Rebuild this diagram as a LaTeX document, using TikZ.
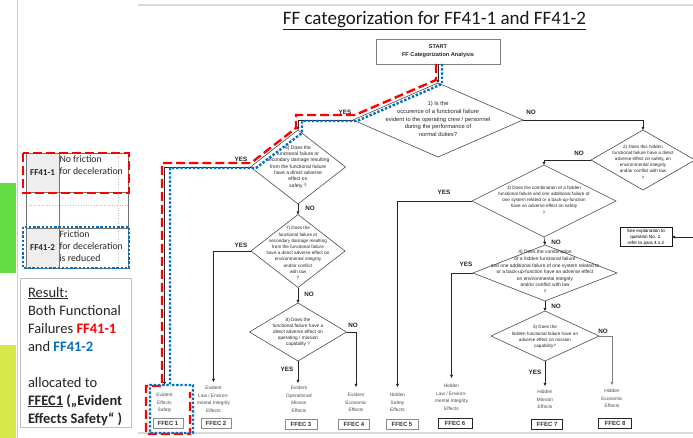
\documentclass[tikz,border=0pt]{standalone}
\usepackage{fontspec}
\setmainfont{Carlito}
\newfontfamily\arialf{Liberation Sans}
\usetikzlibrary{shapes.geometric,arrows.meta}
\definecolor{ffred}{HTML}{FF0000}
\definecolor{ffblue}{HTML}{0070C0}
\definecolor{barG}{HTML}{66DD44}
\definecolor{barY}{HTML}{D4E84A}
\definecolor{cellgray}{HTML}{EEEEEE}
\begin{document}
\begin{tikzpicture}[x=1pt,y=-1pt,
  every node/.style={inner sep=0pt,outer sep=0pt},
  qd/.style={diamond,draw=black!70,line width=0.6pt,inner sep=0pt},
  qt/.style={font=\arialf\fontsize{4.6pt}{6.2pt}\selectfont,align=center,text=black!85},
  lab/.style={font=\arialf\bfseries\fontsize{6.3pt}{7pt}\selectfont,text=black!85},
  outc/.style={font=\arialf\fontsize{4.8pt}{7.7pt}\selectfont,align=center,text=black!70,anchor=north,inner xsep=0pt},
  ffec/.style={draw=black!45,line width=0.7pt,font=\arialf\bfseries\fontsize{6pt}{7pt}\selectfont,
    minimum width=#1,minimum height=10pt,text=black!80},
  ffecd/.style={ffec=#1,draw=black!85,line width=0.9pt},
  conn/.style={draw=black!85,line width=0.6pt,-{Triangle[length=3.2pt,width=2.8pt]}},
  hlred/.style={draw=ffred,line width=2.4pt,dash pattern=on 9pt off 4pt},
  hlblue/.style={draw=ffblue,line width=2.4pt,dash pattern=on 2.4pt off 1.8pt},
  tbl/.style={font=\fontsize{9.8pt}{12pt}\selectfont,text=black!85}]
\clip (0,0) rectangle (693,438);
\fill[white] (0,0) rectangle (693,438);

% side panel
\fill[barG] (0,183) rectangle (16,273);
\fill[barY] (0,345) rectangle (16,438);
\draw[black!20,line width=0.6pt] (17,0) -- (17,438);
\draw[black!15,line width=1.5pt] (138,5) -- (693,5);
\draw[black!15,line width=1.5pt] (138,433) -- (693,433);

% failure table
\fill[cellgray] (26,153) rectangle (59,192);
\fill[cellgray] (26,228) rectangle (59,268);
\draw[black!25,dotted,line width=0.6pt] (26,205) -- (128,205);
\draw[black!25,dotted,line width=0.6pt] (118,153) -- (118,268);
\draw[black!55,line width=0.7pt] (26,153) rectangle (128,268);
\draw[black!55,line width=0.7pt] (59,153) -- (59,268);
\draw[black!55,line width=0.7pt] (26,192) -- (128,192);
\draw[black!55,line width=0.7pt] (26,228) -- (128,228);
\node[tbl,font=\bfseries\fontsize{9pt}{10pt}\selectfont] (ff1) at (42.5,173) {FF41-1};
\node[tbl,anchor=west,align=left] (ff1d) at (59.5,165.5) {No friction\\for deceleration};
\node[tbl,font=\bfseries\fontsize{9pt}{10pt}\selectfont] (ff2) at (42.5,248) {FF41-2};
\node[tbl,anchor=west,align=left] (ff2d) at (59.5,246) {Friction\\for deceleration\\is reduced};
\draw[hlred] (23,153) rectangle (129,193);
\draw[hlblue] (23,227) rectangle (129,268);

% result box
\draw[black!25,line width=0.6pt] (20,278) rectangle (131,427);
\node[anchor=north west,align=left,font=\fontsize{14.5pt}{18pt}\selectfont,text=black!85] (res) at (28,287)
  {\underline{Result:}\\Both Functional\\Failures \textcolor{ffred}{\textbf{FF41-1}}\\and \textcolor{ffblue}{\textbf{FF41-2}}\\[18pt]
   allocated to\\\textbf{\underline{FFEC1} („Evident}\\\textbf{Effects Safety“ )}};

% title
\node[anchor=base,font=\fontsize{19pt}{22pt}\selectfont,text=black!90] (title) at (434.5,25)
  {\underline{FF categorization for FF41-1 and FF41-2}};

% start
\node[draw=black!50,line width=0.6pt,fill=white,minimum width=124pt,minimum height=25pt,align=center,
  font=\arialf\bfseries\fontsize{5.6pt}{8pt}\selectfont,text=black!85] (start) at (438,51.5)
  {START\\FF Categorization Analysis};

% decision diamonds
\node[qd,minimum width=170pt,minimum height=74pt] (d1) at (438,120) {};
\node[qd,minimum width=104pt,minimum height=60pt] (d2) at (643,160) {};
\node[qd,minimum width=144pt,minimum height=72pt] (d3) at (544,201) {};
\node[qd,minimum width=144pt,minimum height=56pt] (d4) at (545,273) {};
\node[qd,minimum width=108pt,minimum height=50pt] (d5) at (545,336) {};
\node[qd,minimum width=95pt,minimum height=74pt] (d6) at (298,167) {};
\node[qd,minimum width=94pt,minimum height=73pt] (d7) at (298,251) {};
\node[qd,minimum width=97pt,minimum height=58pt] (d8) at (298,332) {};

\node[qt,font=\arialf\fontsize{5.8pt}{7.7pt}\selectfont] (d1t) at (438,119)
  {1) Is the\\occurence of a functional failure\\evident to the operating crew / personnel\\during the performance of\\normal duties?};
\node[qt] (d2t) at (643,162)
  {2) Does this hidden\\functional failure have  a direct\\adverse  effect on safety, on\\environmental integrity\\and/or conflict with law\\?};
\node[qt] (d3t) at (544,200)
  {3) Does the combination of a hidden\\functional failure and one additional failure of\\one system  related or a back-up-function\\have an adverse effect on safety\\?};
\node[qt,font=\arialf\fontsize{4.9pt}{6.6pt}\selectfont] (d4t) at (545,272)
  {4) Does the combination\\of a hidden  functional failure\\and one additional failure of one system related to\\or a back-up-function have an adverse effect\\on environmental integrity\\and/or conflict with law\\?};
\node[qt] (d5t) at (545,337)
  {5) Does the\\hidden functional failure have  an\\adverse effect on mission\\capability?};
\node[qt,font=\arialf\fontsize{5pt}{6.3pt}\selectfont] (d6t) at (298,167)
  {6) Does the\\functional failure or\\secondary damage resulting\\from the functional failure\\have  a direct adverse\\effect on\\safety ?};
\node[qt] (d7t) at (298,253)
  {7) Does the\\functional failure or\\secondary damage resulting\\from the functional failure\\have  a direct adverse effect on\\environmental integrity\\and/or conflict\\with law\\?};
\node[qt,font=\arialf\fontsize{4.8pt}{5.9pt}\selectfont] (d8t) at (298,332)
  {8) Does the\\functional failure have  a\\direct adverse effect  on\\operating / mission\\capability ?};

% outcomes
\node[outc,inner ysep=8pt] (ees) at (164.5,385) {Evident\\Effects\\Safety};
\node[outc,inner ysep=4pt] (el) at (213.5,382) {Evident\\Law / Environ-\\mental Integrity\\Effects};
\node[outc,inner ysep=3pt] (eo) at (299,383) {Evident\\Operational/\\Misson\\Effects};
\node[outc,inner ysep=6pt] (ee) at (356,387) {Evident\\Economic\\Effects};
\node[outc,inner ysep=6pt] (hs) at (397.5,387) {Hidden\\Safety\\Effects};
\node[outc,inner ysep=6pt] (hl) at (451.5,378) {Hidden\\Law / Environ-\\mental Integrity\\Effects};
\node[outc,inner ysep=4pt] (hm) at (545,386) {Hidden\\Mission\\Effects};
\node[outc,inner ysep=4pt] (he) at (612,385) {Hidden\\Economic\\Effects};

\node[ffec=30pt] (f1) at (168,423) {FFEC 1};
\node[ffec=30pt] (f2) at (216,423) {FFEC 2};
\node[ffec=32pt] (f3) at (301,424) {FFEC 3};
\node[ffec=31pt] (f4) at (354,424) {FFEC 4};
\node[ffec=32pt] (f5) at (402,424) {FFEC 5};
\node[ffecd=34pt] (f6) at (455,423) {FFEC 6};
\node[ffecd=31pt] (f7) at (547,424) {FFEC 7};
\node[ffecd=33pt] (f8) at (615,423) {FFEC 8};

\node[draw=black!90,line width=0.9pt,align=center,inner xsep=2pt,inner ysep=1.5pt,
  font=\arialf\fontsize{4.6pt}{6pt}\selectfont,minimum width=52pt] (expl) at (646,237)
  {See explanation to\\question No. 2.\\refer  to para 4.1.2};

% connectors
\draw[conn] (start.south) -- (d1.north);
\draw[conn] (d1.west) -| (d6.north);
\draw[conn] (d1.east) -| (d2.north);
\draw[conn] (d2.west) -| (d3.north);
\draw[conn] (d2.east) -- ++(6,0) |- (expl.east);
\draw[conn] (d3.west) -| (hs.north);
\draw[conn] (d3.south) -- (d4.north);
\draw[conn] (d4.west) -| (hl.north);
\draw[conn] (d4.south) -- (d5.north);
\draw[conn] (d5.south) -- (d5.south |- hm.north);
\draw[conn,draw=black!50] (d5.east) -| (he.north);
\draw[conn] (d6.west) -| (ees.north);
\draw[conn] (d6.south) -- (d7.north);
\draw[conn] (d7.west) -| (el.north);
\draw[conn] (d7.south) -- (d8.north);
\draw[conn] (d8.south) -- (d8.south |- eo.north);
\draw[conn] (d8.east) -| (ee.north);

% branch labels
\node[lab] (y1) at (345,112) {YES};
\node[lab] (n1) at (531,112) {NO};
\node[lab] (n2) at (579,153) {NO};
\node[lab] (y3) at (444,192) {YES};
\node[lab] (n3) at (556,242) {NO};
\node[lab] (y4) at (466,264) {YES};
\node[lab] (n4) at (556,306) {NO};
\node[lab] (y5) at (535,372) {YES};
\node[lab] (n5) at (603,331) {NO};
\node[lab] (y6) at (241,159) {YES};
\node[lab] (n6) at (310,208) {NO};
\node[lab] (y7) at (241,245) {YES};
\node[lab] (n7) at (309,294) {NO};
\node[lab] (y8) at (287,369) {YES};
\node[lab] (n8) at (353,325) {NO};

% traced paths of the two failures
\draw[hlred] (436,64) -- (436,80) -- (355,115) -- (296,115) -- (296,128) -- (251,163) -- (162,163)
  -- (162,386) -- (146,386) -- (146,434) -- (190,434) -- (190,392);
\draw[hlblue] (442,64) -- (442,84) -- (357,121) -- (302,121) -- (302,133) -- (256,168) -- (170,168)
  -- (170,385) -- (150,385) -- (150,433) -- (193,433) -- (193,385) -- (170,385);
\end{tikzpicture}
\end{document}
